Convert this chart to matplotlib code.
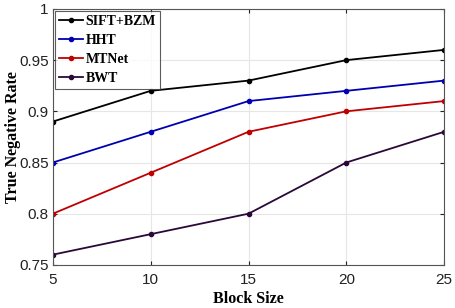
import matplotlib
matplotlib.use("Agg")
import matplotlib.pyplot as plt

block_sizes = [5, 10, 15, 20, 25]
sift_bzm = [0.89, 0.92, 0.93, 0.95, 0.96]
hht = [0.85, 0.88, 0.91, 0.92, 0.93]
mtnet = [0.80, 0.84, 0.88, 0.90, 0.91]
bwt = [0.76, 0.78, 0.80, 0.85, 0.88]
labels = ["SIFT+BZM", "HHT", "MTNet", "BWT"]
colors = ["#000000", "#0000b0", "#c00000", "#2a0838"]

fig = plt.figure(figsize=(4.56, 3.08), dpi=100)
ax = fig.add_axes([0.116, 0.140, 0.858, 0.831])

for ys, lab, c in zip([sift_bzm, hht, mtnet, bwt], labels, colors):
    ax.plot(block_sizes, ys, color=c, lw=1.3, marker='o', ms=3, label=lab)

ax.set_xlim(5, 25)
ax.set_ylim(0.75, 1.0)
ax.set_xticks([5, 10, 15, 20, 25])
ax.set_yticks([0.75, 0.8, 0.85, 0.9, 0.95, 1.0])
ax.set_yticklabels(["0.75", "0.8", "0.85", "0.9", "0.95", "1"])
ax.grid(True, color="#e6e6e6", lw=0.8)
for s in ax.spines.values():
    s.set_color("#555555")
    s.set_linewidth(0.8)
ax.tick_params(direction='in', length=3, labelsize=11, colors="#222222",
               top=True, right=True)
ax.tick_params(axis='x', pad=5.5)
ax.tick_params(axis='y', pad=3)
for t in ax.get_xticklabels() + ax.get_yticklabels():
    t.set_family("Liberation Sans")

ax.set_xlabel("Block Size", family="Liberation Serif", fontweight="bold", fontsize=11.5, labelpad=3)
ax.set_ylabel("True Negative Rate", family="Liberation Serif", fontweight="bold", fontsize=11.5)
ax.yaxis.set_label_coords(-0.082, 0.5)

leg = ax.legend(loc="upper left", prop={"family": "Liberation Serif", "weight": "bold", "size": 10},
                frameon=True, fancybox=False, edgecolor="#333333", borderpad=0.3,
                labelspacing=0.42, handlelength=1.7, handletextpad=0.2,
                borderaxespad=0.15)
leg.get_frame().set_linewidth(0.8)

fig.savefig("out.png", dpi=100)
